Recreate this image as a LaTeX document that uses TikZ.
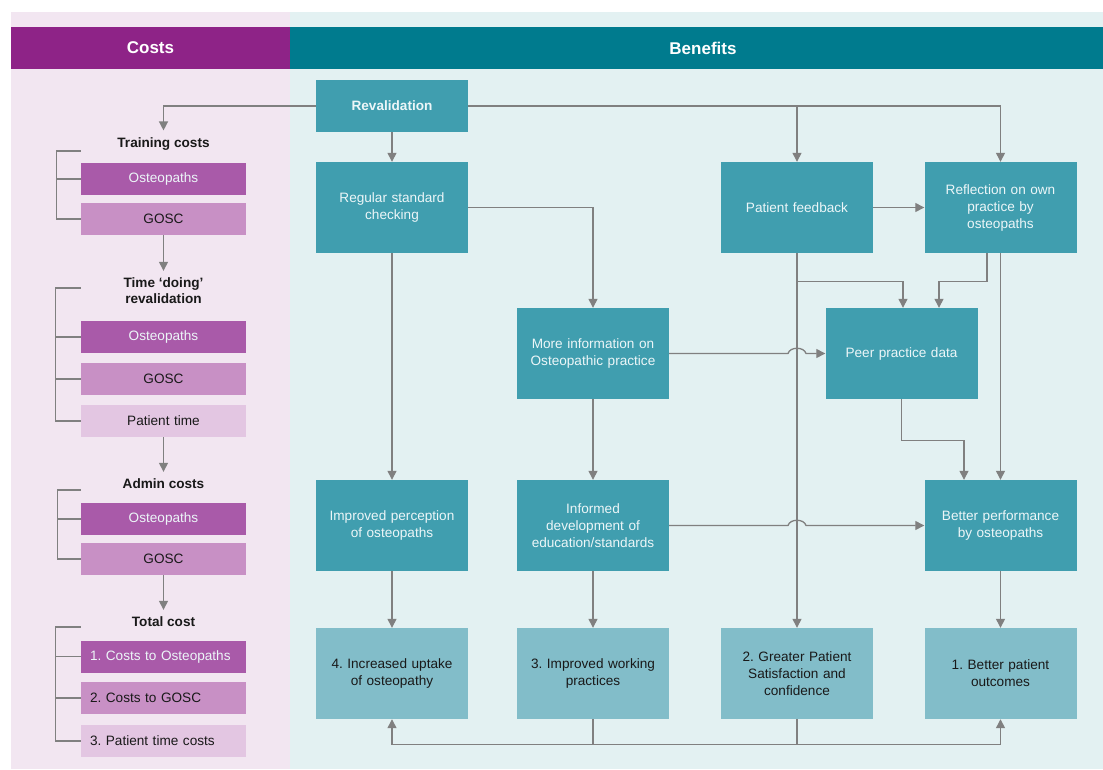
\documentclass[tikz,border=0pt]{standalone}
\usepackage{fontspec}
\setmainfont{Liberation Sans}
\usetikzlibrary{arrows.meta,calc}
\definecolor{costhead}{RGB}{142,35,135}
\definecolor{benhead}{RGB}{0,123,142}
\definecolor{pinkbg}{RGB}{242,230,241}
\definecolor{tealbg}{RGB}{227,241,242}
\definecolor{ostc}{RGB}{169,90,169}
\definecolor{goscc}{RGB}{200,144,197}
\definecolor{patc}{RGB}{227,198,226}
\definecolor{mainc}{RGB}{64,158,175}
\definecolor{botc}{RGB}{130,189,201}
\definecolor{linec}{RGB}{128,128,128}
\definecolor{boxtext}{RGB}{236,246,248}
\definecolor{darktext}{RGB}{25,25,25}
\tikzset{
  x=1pt, y=-1pt,
  mainbox/.style={rectangle, fill=mainc, minimum width=152pt, minimum height=91pt, inner sep=0pt,
    text width=146pt, align=center, text=boxtext, font=\fontsize{13.6}{17}\selectfont},
  botbox/.style={mainbox, fill=botc, text=darktext},
  costbox/.style={rectangle, minimum width=165pt, minimum height=32pt, inner sep=0pt,
    text width=157pt, align=center, font=\fontsize{13.6}{15}\selectfont},
  ostbox/.style={costbox, fill=ostc, text=boxtext},
  goscbox/.style={costbox, fill=goscc, text=darktext},
  patbox/.style={costbox, fill=patc, text=darktext},
  ctitle/.style={inner xsep=0pt, inner ysep=7pt, align=center, text=darktext,
    font=\bfseries\fontsize{13.6}{16}\selectfont},
  line/.style={draw=linec, line width=1.3pt},
  arr/.style={line, -{Triangle[length=9pt,width=9pt]}},
  headtext/.style={text=white, font=\bfseries\fontsize{17}{19}\selectfont}
}
\begin{document}
\frenchspacing
\begin{tikzpicture}
\useasboundingbox (0,0) rectangle (1103,769);
\fill[white] (0,0) rectangle (1103,769);
% backgrounds
\fill[pinkbg] (11,12) rectangle (290,769);
\fill[tealbg] (290,12) rectangle (1103,769);
\fill[costhead] (11,27) rectangle (290,69);
\fill[benhead] (290,27) rectangle (1103,69);
\node[headtext] (hcost) at (150.5,48) {Costs};
\node[headtext] (hben) at (703,48) {Benefits};

% benefit nodes
\node[mainbox, minimum height=52pt, font=\bfseries\fontsize{13.6}{17}\selectfont] (rev) at (392,106) {Revalidation};
\node[mainbox] (reg) at (392,207.5) {Regular standard\\checking};
\node[mainbox] (pf) at (797,207.5) {Patient feedback};
\node[mainbox] (refl) at (1000.5,207.5) {Reflection on own\\practice by\\osteopaths};
\node[mainbox] (more) at (593,353.5) {More information on\\Osteopathic practice};
\node[mainbox] (peer) at (901.5,353.5) {Peer practice data};
\node[mainbox] (perc) at (392,525.5) {Improved perception\\of osteopaths};
\node[mainbox] (inf) at (593,525.5) {Informed\\development of\\education/standards};
\node[mainbox] (perf) at (1000.5,525.5) {Better performance\\by osteopaths};
\node[botbox] (b4) at (392,673.5) {4. Increased uptake\\of osteopathy};
\node[botbox] (b3) at (593,673.5) {3. Improved working\\practices};
\node[botbox] (b2) at (797,673.5) {2. Greater Patient\\Satisfaction and\\confidence};
\node[botbox] (b1) at (1000.5,673.5) {1. Better patient\\outcomes};

% cost nodes
\node[ctitle] (tc) at (163.5,144) {Training costs};
\node[ostbox] (o1) at (163.5,179) {Osteopaths};
\node[goscbox] (g1) at (163.5,219) {GOSC};
\node[ctitle] (td) at (163.5,291) {Time ‘doing’\\revalidation};
\node[ostbox] (o2) at (163.5,337) {Osteopaths};
\node[goscbox] (g2) at (163.5,379) {GOSC};
\node[patbox] (p2) at (163.5,421) {Patient time};
\node[ctitle] (ac) at (163.5,484) {Admin costs};
\node[ostbox] (o3) at (163.5,519) {Osteopaths};
\node[goscbox] (g3) at (163.5,559) {GOSC};
\node[ctitle] (tot) at (163.5,622) {Total cost};
\node[ostbox, align=left, text width=147pt] (t1) at (163.5,656.5) {1. Costs to Osteopaths};
\node[goscbox, align=left, text width=147pt] (t2) at (163.5,698) {2. Costs to GOSC};
\node[patbox, align=left, text width=147pt] (t3) at (163.5,741) {3. Patient time costs};

% brackets
\draw[line] (o1.west |- 0,151) -- ++(-24,0) |- (g1.west);
\draw[line] (o1.west) -- ++(-24,0);
\draw[line] (o2.west |- 0,288) -- ++(-25,0) |- (p2.west);
\draw[line] (o2.west) -- ++(-25,0);
\draw[line] (g2.west) -- ++(-25,0);
\draw[line] (o3.west |- 0,490) -- ++(-23,0) |- (g3.west);
\draw[line] (o3.west) -- ++(-23,0);
\draw[line] (t1.west |- 0,627) -- ++(-25,0) |- (t3.west);
\draw[line] (t1.west) -- ++(-25,0);
\draw[line] (t2.west) -- ++(-25,0);

% cost arrows
\draw[arr] (rev.west) -| (tc.north);
\draw[arr] (g1.south) -- (td.north);
\draw[arr] (p2.south) -- (ac.north);
\draw[arr] (g3.south) -- (tot.north);

% benefit connectors
\draw[arr] (rev.south) -- (reg.north);
\draw[arr] (rev.east) -| (pf.north);
\draw[arr] (rev.east) -| (refl.north);
\draw[arr] (reg.east) -| (more.north);
\draw[arr] (reg.south) -- (perc.north);
\draw[arr] (pf.east) -- (refl.west);
\draw[arr] (pf.south) -- (b2.north);
\draw[arr] ($(pf.south)+(0,28)$) -| ($(peer.north)+(1.5,0)$);
\draw[arr] ($(refl.south)+(-13.5,0)$) -- ++(0,28) -| ($(peer.north)+(37.5,0)$);
\draw[arr] (refl.south) -- (perf.north);
\draw[arr] (more.east) -- ($(pf.south |- more.east)+(-9,0)$)
  .. controls +(2,-7) and +(-2,-7) .. ($(pf.south |- more.east)+(9,0)$) -- (peer.west);
\draw[arr] (more.south) -- (inf.north);
\draw[arr] (peer.south) -- ++(0,41) -| ($(perf.north)+(-36.5,0)$);
\draw[arr] (inf.east) -- ($(pf.south |- inf.east)+(-9,0)$)
  .. controls +(2,-7) and +(-2,-7) .. ($(pf.south |- inf.east)+(9,0)$) -- (perf.west);
\draw[arr] (perc.south) -- (b4.north);
\draw[arr] (inf.south) -- (b3.north);
\draw[arr] (perf.south) -- (b1.north);
\draw[arr] (b3.south) -- ++(0,25) -| (b4.south);
\draw[arr] (b2.south) -- ++(0,25) -| (b1.south);
\draw[line] ($(b3.south)+(0,25)$) -- ($(b2.south)+(0,25)$);
\end{tikzpicture}
\end{document}
